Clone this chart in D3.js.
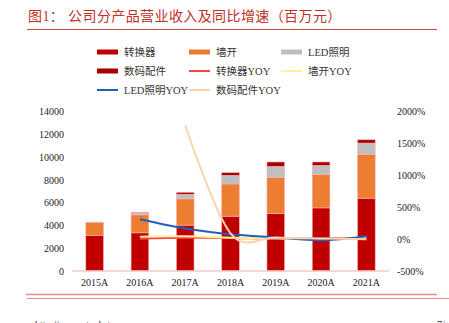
<!DOCTYPE html>
<html>
<head>
<meta charset="utf-8">
<script src="https://cdn.jsdelivr.net/npm/d3@7"></script>
<style>
    body { margin: 0; background: #fff; }
    svg { display: block; }
    text { font-family: "Liberation Serif", "Noto Sans CJK SC", serif; }
</style>
</head>
<body>
<div id="chart"></div>
<script>

var years = ['2015A', '2016A', '2017A', '2018A', '2019A', '2020A', '2021A'];

// revenue by product (million yuan)
var converter = [3120, 3350, 4025, 4810, 5050, 5540, 6390];
var wallSwitch = [1140, 1580, 2305, 2830, 3175, 2950, 3850];
var ledLight = [30, 170, 410, 760, 965, 785, 990];
var digital = [0, 60, 170, 230, 380, 295, 290];

// year over year growth (%)
var converterYoy = [null, 7, 20, 19, 5, 10, 15];
var wallSwitchYoy = [null, 38, 45, 23, 12, -7, 30];
var ledLightYoy = [null, 310, 165, 75, 27, -18, 45];
var digitalYoy = [null, null, 1780, 90, 25, 10, -3];

var leftTicks = [0, 2000, 4000, 6000, 8000, 10000, 12000, 14000];
var rightTicks = [-500, 0, 500, 1000, 1500, 2000];


class ComboChart {

    constructor(config) {
        this._config = config;
        this._margin = { left: 72, top: 111.5, right: 60, bottom: 52 };
    }

    renderTo(selector) {

        var width = 449, height = 323;
        var m = this._margin;

        var svg = d3.select(selector).append('svg')
            .attr('width', width)
            .attr('height', height);

        // title + rule
        svg.append('text')
            .attr('x', 28)
            .attr('y', 21)
            .style('font-size', '14px')
            .style('letter-spacing', '0.4px')
            .style('fill', '#c0302a')
            .text('图1：  公司分产品营业收入及同比增速（百万元）');

        svg.append('line')
            .attr('x1', 27).attr('x2', 437)
            .attr('y1', 29.5).attr('y2', 29.5)
            .style('stroke', '#d64545')
            .style('stroke-width', 1);

        var x = d3.scaleBand()
            .domain(years)
            .range([m.left, width - m.right])
            .paddingInner(0.61)
            .paddingOuter(0.305);

        var y = d3.scaleLinear()
            .domain([0, 14000])
            .range([height - m.bottom, m.top]);

        var y2 = d3.scaleLinear()
            .domain([-500, 2000])
            .range([height - m.bottom, m.top]);

        // stacked bars
        var rows = years.map((yr, i) => ({
            year: yr,
            converter: converter[i],
            wallSwitch: wallSwitch[i],
            ledLight: ledLight[i],
            digital: digital[i]
        }));

        var keys = ['converter', 'wallSwitch', 'ledLight', 'digital'];
        var barColors = { converter: '#c00000', wallSwitch: '#ed7d31', ledLight: '#bfbfbf', digital: '#a80000' };
        var stack = d3.stack().keys(keys)(rows);

        svg.append('g')
            .selectAll('g')
            .data(stack)
            .enter()
            .append('g')
            .style('fill', d => barColors[d.key])
            .selectAll('rect')
            .data(d => d)
            .enter()
            .append('rect')
            .attr('x', d => x(d.data.year))
            .attr('width', x.bandwidth())
            .attr('y', d => y(d[1]))
            .attr('height', d => y(d[0]) - y(d[1]))
            .style('stroke', '#f3b4b4')
            .style('stroke-width', 0.6);

        // baseline
        svg.append('line')
            .attr('x1', m.left).attr('x2', width - m.right)
            .attr('y1', y(0)).attr('y2', y(0))
            .style('stroke', '#f6caca')
            .style('stroke-width', 1.5);

        // growth lines
        var lineSeries = [
            { values: converterYoy, color: '#ff4444' },
            { values: wallSwitchYoy, color: '#fff09a' },
            { values: ledLightYoy, color: '#1f5fbf' },
            { values: digitalYoy, color: '#fdd3b0' }
        ];

        var line = d3.line()
            .x(d => x(d.year) + x.bandwidth() / 2)
            .y(d => y2(d.v))
            .curve(d3.curveCardinal.tension(0));

        svg.append('g')
            .selectAll('path')
            .data(lineSeries)
            .enter()
            .append('path')
            .attr('d', s => line(years.map((yr, i) => ({ year: yr, v: s.values[i] })).filter(d => d.v !== null)))
            .style('fill', 'none')
            .style('stroke', s => s.color)
            .style('stroke-width', 2);

        // left axis
        var leftAxis = svg.append('g')
            .attr('transform', 'translate(' + [m.left - 8, 0] + ')')
            .call(d3.axisLeft(y).tickValues(leftTicks).tickSize(0).tickPadding(0).tickFormat(d3.format('d')));
        leftAxis.select('.domain').remove();
        leftAxis.selectAll('text').style('font-size', '10px').style('fill', '#222')
            .style('font-family', '"Liberation Serif", serif');

        // right axis
        var rightAxis = svg.append('g')
            .attr('transform', 'translate(' + [width - m.right + 8, 0] + ')')
            .call(d3.axisRight(y2).tickValues(rightTicks).tickSize(0).tickPadding(0).tickFormat(d => d + '%'));
        rightAxis.select('.domain').remove();
        rightAxis.selectAll('text').style('font-size', '10px').style('fill', '#222')
            .style('font-family', '"Liberation Serif", serif');

        // bottom axis labels
        var bottomAxis = svg.append('g')
            .attr('transform', 'translate(' + [0, y(0) + 8] + ')')
            .call(d3.axisBottom(x).tickSize(0).tickPadding(0));
        bottomAxis.select('.domain').remove();
        bottomAxis.selectAll('text').style('font-size', '10px').style('fill', '#222')
            .style('font-family', '"Liberation Serif", serif');

        // legend
        var legend = [
            { name: '转换器', color: '#c00000', bar: true },
            { name: '墙开', color: '#ed7d31', bar: true },
            { name: 'LED照明', color: '#bfbfbf', bar: true },
            { name: '数码配件', color: '#a80000', bar: true },
            { name: '转换器YOY', color: '#ff4444', bar: false },
            { name: '墙开YOY', color: '#fff09a', bar: false },
            { name: 'LED照明YOY', color: '#1f5fbf', bar: false },
            { name: '数码配件YOY', color: '#fdd3b0', bar: false }
        ];

        var items = svg.append('g')
            .selectAll('g')
            .data(legend)
            .enter()
            .append('g')
            .attr('transform', (d, i) => 'translate(' + [97 + (i % 3) * 92, 52 + Math.floor(i / 3) * 19] + ')');

        items.append('rect')
            .attr('x', 0)
            .attr('y', d => d.bar ? -2.5 : -1)
            .attr('width', 21)
            .attr('height', d => d.bar ? 5 : 2)
            .style('fill', d => d.color);

        items.append('text')
            .attr('x', 27)
            .attr('dy', '0.35em')
            .style('font-size', '10.5px')
            .style('fill', '#333')
            .text(d => d.name);

        // footer rules
        svg.append('line')
            .attr('x1', 26).attr('x2', 437)
            .attr('y1', 294.5).attr('y2', 294.5)
            .style('stroke', '#e48a8a')
            .style('stroke-width', 1.5);

        svg.append('line')
            .attr('x1', 27).attr('x2', 449)
            .attr('y1', 298.5).attr('y2', 298.5)
            .style('stroke', '#e48a8a')
            .style('stroke-width', 1);

        // footer source / page (cut by the frame, as in the reference)
        svg.append('text')
            .attr('x', 35)
            .attr('y', 328)
            .style('font-size', '10px')
            .style('fill', '#333')
            .text('http://www.stockstar.com.cn');

        svg.append('text')
            .attr('x', 437)
            .attr('y', 328)
            .style('font-size', '10px')
            .style('fill', '#333')
            .text('7/');

        return this;
    }
}

new ComboChart({}).renderTo('#chart');

</script>
</body>
</html>
